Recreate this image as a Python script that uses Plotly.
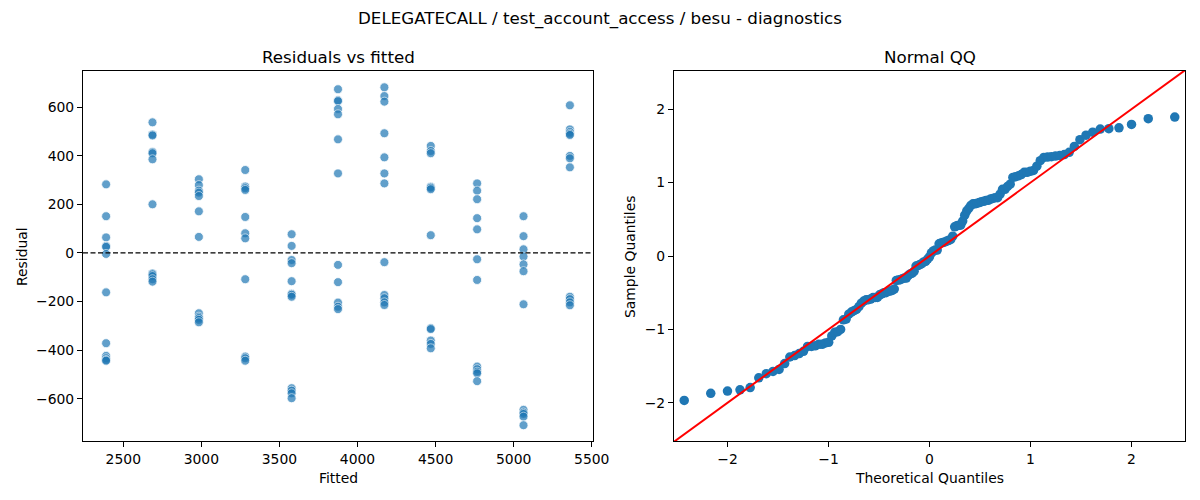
from statistics import NormalDist

import numpy as np
import plotly.graph_objects as go

# Fitted value of each group (x positions of the residual columns).
fitted_levels = [2390, 2687, 2984, 3281, 3578, 3875, 4172, 4469, 4766, 5063, 5360]

# Residuals, one list per fitted level.
res_2390 = [282, 151, 64, 29, 25, -4, -162, -371, -423, -433, -440, -443]
res_2687 = [537, 487, 483, 415, 410, 385, 200, -84, -88, -95, -108, -118]
res_2984 = [303, 279, 256, 248, 234, 171, 66, -248, -262, -268, -275, -285]
res_3281 = [341, 273, 266, 259, 148, 81, 60, -108, -426, -433, -443]
res_3578 = [77, 29, -29, -42, -116, -168, -172, -180, -556, -566, -577, -597]
res_3875 = [673, 628, 624, 592, 570, 467, 327, -49, -120, -204, -221, -231]
res_4172 = [681, 645, 622, 492, 393, 327, 286, -38, -173, -186, -203, -214]
res_4469 = [440, 419, 410, 272, 268, 262, 73, -309, -313, -360, -374, -392]
res_4766 = [286, 256, 221, 143, 97, -26, -111, -467, -478, -488, -495, -527]
res_5063 = [151, 69, 15, -15, -47, -75, -211, -645, -656, -662, -673, -708]
res_5360 = [607, 508, 497, 490, 485, 399, 389, 352, -180, -190, -203, -215]

groups = [res_2390, res_2687, res_2984, res_3281, res_3578, res_3875,
          res_4172, res_4469, res_4766, res_5063, res_5360]

fitted = np.concatenate([[f] * len(g) for f, g in zip(fitted_levels, groups)])
residual = np.concatenate(groups).astype(float)

# Normal QQ: OLS residuals have zero mean, so scale them by their RMS
# and plot the sorted values against normal quantiles.
n = len(residual)
sample_q = np.sort(residual / np.sqrt(np.mean(residual ** 2)))
theo_q = np.array([NormalDist().inv_cdf(i / (n + 1)) for i in range(1, n + 1)])

qq_lim = [-2.53, 2.53]

font = "DejaVu Sans, Verdana, sans-serif"
blue = "#1f77b4"

fig = go.Figure()

fig.add_trace(go.Scatter(
    x=fitted, y=residual, mode="markers", xaxis="x", yaxis="y",
    marker=dict(color=blue, size=9, opacity=0.7,
                line=dict(color="white", width=0.8)),
    showlegend=False,
))

fig.add_trace(go.Scatter(
    x=theo_q, y=sample_q, mode="markers", xaxis="x2", yaxis="y2",
    marker=dict(color=blue, size=9.5, line=dict(width=0)),
    showlegend=False,
))

# 45 degree reference line
fig.add_trace(go.Scatter(
    x=qq_lim, y=qq_lim, mode="lines", xaxis="x2", yaxis="y2",
    line=dict(color="red", width=2), showlegend=False,
))

# dashed zero line on the residual plot
fig.add_shape(type="line", xref="x domain", yref="y", x0=0, x1=1, y0=0, y1=0,
              line=dict(color="black", width=1.2, dash="5px,2.5px"))

axis_style = dict(
    showline=True, mirror=True, linecolor="black", linewidth=1.1,
    ticks="outside", ticklen=5, tickwidth=1.1, tickcolor="black",
    showgrid=False, zeroline=False, automargin=False,
    tickfont=dict(family=font, size=13.9, color="black"),
)

fig.update_layout(
    width=1200, height=500,
    margin=dict(l=0, r=0, t=0, b=0),
    paper_bgcolor="white", plot_bgcolor="white",
    font=dict(family=font, size=13.9, color="black"),
    xaxis=dict(domain=[83 / 1200, 593 / 1200], range=[2242, 5508],
               tickvals=[2500, 3000, 3500, 4000, 4500, 5000, 5500], **axis_style),
    yaxis=dict(domain=[59 / 500, 429 / 500], range=[-773, 748],
               tickvals=[-600, -400, -200, 0, 200, 400, 600], **axis_style),
    xaxis2=dict(domain=[674 / 1200, 1185 / 1200], range=qq_lim,
                tickvals=[-2, -1, 0, 1, 2], anchor="y2", **axis_style),
    yaxis2=dict(domain=[59 / 500, 429 / 500], range=[-2.52, 2.52],
                tickvals=[-2, -1, 0, 1, 2], anchor="x2", **axis_style),
)

texts = [
    ("DELEGATECALL / test_account_access / besu - diagnostics", 600, 18, 16.7, 0),
    ("Residuals vs fitted", 338, 57, 16.7, 0),
    ("Normal QQ", 929.5, 57, 16.7, 0),
    ("Fitted", 338, 478, 13.9, 0),
    ("Theoretical Quantiles", 929.5, 478, 13.9, 0),
    ("Residual", 22, 257, 13.9, -90),
    ("Sample Quantiles", 630, 257, 13.9, -90),
]
for text, px_x, px_y, size, angle in texts:
    fig.add_annotation(
        text=text, xref="paper", yref="paper",
        x=px_x / 1200, y=1 - px_y / 500, xanchor="center", yanchor="middle",
        showarrow=False, textangle=angle,
        font=dict(family=font, size=size, color="black"),
    )

# drop the browser's default body margin so the figure sits at (0, 0)
fig.write_html("out.html",
               config={"displayModeBar": False},
               post_script="document.body.style.margin='0';"
                           "document.body.style.overflow='hidden';")
